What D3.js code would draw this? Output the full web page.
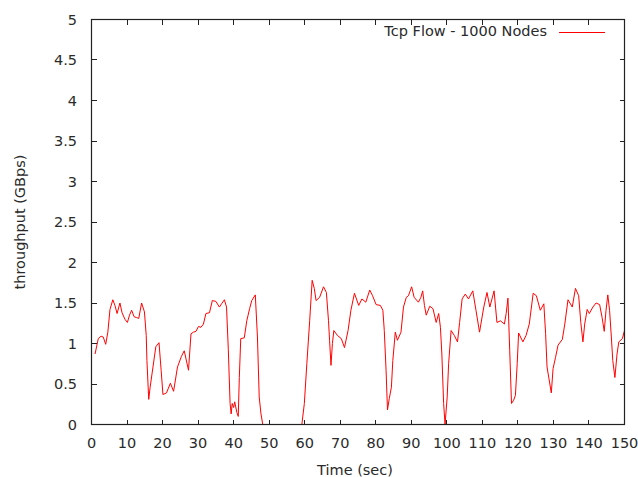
<!DOCTYPE html>
<html>
<head>
<meta charset="utf-8">
<script src="https://cdn.jsdelivr.net/npm/d3@7/dist/d3.min.js"></script>
<style>
  html, body { margin: 0; padding: 0; background: #fff; }
  svg { display: block; }
  text { font-family: "DejaVu Sans", sans-serif; fill: #2a2a2a; }
</style>
</head>
<body>
<svg id="chart" width="638" height="477"></svg>
<script>
// Sample times (sec) and measured TCP throughput (GBps)
const times = [
  1.0, 1.9, 2.7, 3.3, 4.0, 4.6, 5.2, 6.0, 6.6, 7.2, 8.0, 8.6, 9.4, 10.1, 10.7, 11.3, 12.0, 12.7, 13.3, 14.1,
  14.9, 15.4, 15.6, 16.1, 16.5, 17.3, 18.1, 19.0, 19.6, 20.1, 21.1, 22.2, 23.1, 24.2, 25.3, 26.1, 27.3, 28.0,
  28.7, 29.4, 30.1, 30.8, 31.5, 32.2, 33.2, 34.0, 35.0, 36.0, 36.6, 37.4, 38.0, 38.5, 39.0, 39.3, 39.6, 40.0,
  40.3, 40.9, 41.3, 41.6, 42.0, 43.0, 43.7, 44.5, 45.1, 46.1, 46.7, 47.2, 47.7, 48.2, 59.2, 59.9, 60.6, 61.4,
  62.1, 62.7, 63.2, 64.2, 65.3, 66.1, 66.7, 67.0, 67.4, 67.8, 68.2, 69.2, 70.3, 71.2, 72.2, 73.0, 74.0, 75.2,
  76.1, 77.2, 78.3, 79.1, 80.1, 81.3, 82.0, 82.4, 82.9, 83.3, 83.8, 84.4, 84.8, 85.5, 86.1, 87.1, 87.8, 88.6,
  89.2, 90.1, 90.8, 92.0, 92.7, 93.2, 93.7, 94.2, 95.2, 96.1, 97.0, 97.7, 98.2, 98.6, 99.1, 99.5, 100.1, 100.5,
  101.2, 102.1, 103.0, 103.6, 104.3, 105.2, 106.1, 107.3, 108.2, 109.2, 110.4, 111.3, 112.1, 113.3, 114.1,
  115.1, 116.2, 116.7, 117.2, 117.7, 118.2, 118.8, 119.3, 119.8, 120.2, 121.4, 122.3, 123.2, 124.3, 125.2,
  126.3, 127.3, 127.8, 128.2, 129.4, 129.9, 130.6, 131.3, 132.5, 133.2, 134.1, 135.3, 136.2, 137.1, 137.7,
  138.3, 138.8, 139.5, 140.1, 141.1, 142.0, 143.0, 143.7, 144.3, 144.8, 145.3, 145.8, 146.3, 146.7, 147.3,
  147.9, 148.4, 149.4, 150.0
];
const throughput = [
  0.87, 1.06, 1.09, 1.08, 0.99, 1.14, 1.42, 1.54, 1.47, 1.37, 1.50, 1.38, 1.30, 1.26, 1.35, 1.41, 1.33, 1.32, 1.31, 1.50,
  1.39, 1.10, 0.79, 0.31, 0.46, 0.71, 0.96, 1.01, 0.67, 0.37, 0.39, 0.51, 0.41, 0.71, 0.84, 0.91, 0.67, 1.12,
  1.14, 1.15, 1.21, 1.20, 1.24, 1.37, 1.38, 1.53, 1.52, 1.45, 1.49, 1.54, 1.45, 0.93, 0.26, 0.13, 0.26, 0.21,
  0.28, 0.15, 0.10, 0.58, 1.06, 1.07, 1.28, 1.43, 1.53, 1.60, 1.08, 0.34, 0.13, 0.00, 0.00, 0.26, 0.75, 1.28,
  1.78, 1.68, 1.53, 1.57, 1.70, 1.63, 1.28, 1.04, 0.73, 1.00, 1.16, 1.10, 1.06, 0.95, 1.16, 1.41, 1.62, 1.47,
  1.55, 1.51, 1.66, 1.59, 1.48, 1.47, 1.41, 1.16, 0.67, 0.18, 0.32, 0.46, 0.79, 1.14, 1.04, 1.14, 1.45, 1.57,
  1.59, 1.70, 1.57, 1.51, 1.57, 1.65, 1.47, 1.35, 1.46, 1.43, 1.26, 1.37, 1.20, 0.87, 0.26, 0.00, 0.34, 0.75,
  1.16, 1.10, 1.02, 1.26, 1.55, 1.61, 1.55, 1.65, 1.41, 1.14, 1.45, 1.63, 1.45, 1.65, 1.26,
  1.28, 1.24, 1.37, 1.56, 0.91, 0.26, 0.30, 0.36, 0.75, 1.13, 1.02, 1.10, 1.24, 1.62, 1.59,
  1.41, 1.49, 1.12, 0.71, 0.39, 0.69, 0.83, 0.98, 1.05, 1.24, 1.54, 1.45, 1.68, 1.59, 1.26,
  1.02, 1.24, 1.42, 1.37, 1.45, 1.50, 1.48, 1.32, 1.15, 1.41, 1.60, 1.41, 1.08, 0.79, 0.58,
  0.87, 1.02, 1.06, 1.16
];
const xTicks = [0, 10, 20, 30, 40, 50, 60, 70, 80, 90, 100, 110, 120, 130, 140, 150];
const yTicks = [0, 0.5, 1, 1.5, 2, 2.5, 3, 3.5, 4, 4.5, 5];
const seriesName = "Tcp Flow - 1000 Nodes";
const xTitle = "Time (sec)";
const yTitle = "throughput (GBps)";

const svg = d3.select("#chart");
// Border lines sit on pixel centres so a value of 0 lands exactly on the bottom border
const plot = { left: 91.5, right: 624.5, top: 19.5, bottom: 424.5 };

const x = d3.scaleLinear().domain([0, 150]).range([plot.left, plot.right]);
const y = d3.scaleLinear().domain([0, 5]).range([plot.bottom, plot.top]);

const tickLen = 5;
const axisColor = "#222";
const fontSize = 14.5;

// Data line, clipped to the plotting box
svg.append("clipPath").attr("id", "plotClip")
  .append("rect")
  .attr("x", plot.left).attr("y", plot.top)
  .attr("width", plot.right - plot.left).attr("height", plot.bottom - plot.top);

const points = times.map((t, i) => [t, throughput[i]]);
const line = d3.line().x(d => x(d[0])).y(d => y(d[1]));
svg.append("path")
  .datum(points)
  .attr("clip-path", "url(#plotClip)")
  .attr("fill", "none")
  .attr("stroke", "#ff0000")
  .attr("stroke-width", 1)
  .attr("stroke-linejoin", "miter")
  .attr("d", line);

// Ticks on all four sides (mirrored), pointing inward
const ticks = svg.append("g")
  .attr("stroke", axisColor)
  .attr("stroke-width", 1)
  .attr("shape-rendering", "crispEdges");

xTicks.forEach(v => {
  const px = Math.floor(x(v)) + 0.5;
  ticks.append("line").attr("x1", px).attr("x2", px)
    .attr("y1", plot.bottom).attr("y2", plot.bottom - tickLen);
  ticks.append("line").attr("x1", px).attr("x2", px)
    .attr("y1", plot.top).attr("y2", plot.top + tickLen);
});
yTicks.forEach(v => {
  const py = Math.floor(y(v)) + 0.5;
  ticks.append("line").attr("y1", py).attr("y2", py)
    .attr("x1", plot.left).attr("x2", plot.left + tickLen);
  ticks.append("line").attr("y1", py).attr("y2", py)
    .attr("x1", plot.right).attr("x2", plot.right - tickLen);
});

// Border box, drawn over the data so zero values hide under the bottom edge
svg.append("rect")
  .attr("x", plot.left).attr("y", plot.top)
  .attr("width", plot.right - plot.left).attr("height", plot.bottom - plot.top)
  .attr("fill", "none")
  .attr("stroke", axisColor)
  .attr("stroke-width", 1.2);

// Tick labels
svg.append("g").selectAll("text")
  .data(xTicks).join("text")
  .attr("x", d => x(d))
  .attr("y", 448)
  .attr("text-anchor", "middle")
  .attr("font-size", fontSize)
  .text(d => d);

svg.append("g").selectAll("text")
  .data(yTicks).join("text")
  .attr("x", 77)
  .attr("y", d => y(d) + 5)
  .attr("text-anchor", "end")
  .attr("font-size", fontSize)
  .text(d => d);

// Axis titles
svg.append("text")
  .attr("x", 355)
  .attr("y", 475)
  .attr("text-anchor", "middle")
  .attr("font-size", fontSize)
  .text(xTitle);

svg.append("text")
  .attr("transform", `translate(25,${(plot.top + plot.bottom) / 2}) rotate(-90)`)
  .attr("text-anchor", "middle")
  .attr("font-size", fontSize)
  .text(yTitle);

// Key
svg.append("text")
  .attr("x", 547)
  .attr("y", 35.5)
  .attr("text-anchor", "end")
  .attr("font-size", fontSize)
  .text(seriesName);
svg.append("line")
  .attr("x1", 559).attr("x2", 605)
  .attr("y1", 32.5).attr("y2", 32.5)
  .attr("stroke", "#ff0000")
  .attr("stroke-width", 1);
</script>
</body>
</html>
